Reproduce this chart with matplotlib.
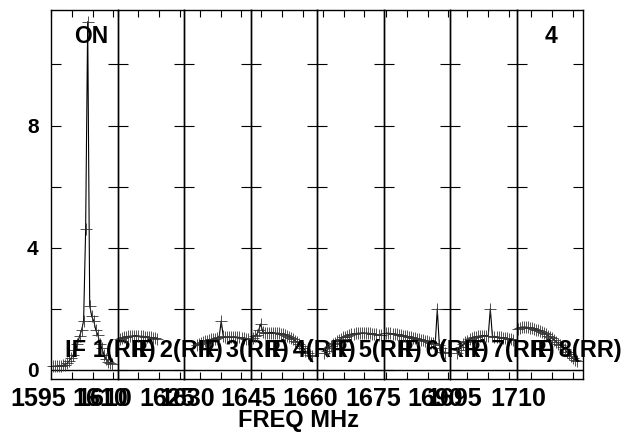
import numpy as np
import matplotlib.pyplot as plt
import matplotlib.transforms as mtransforms

plt.rcParams['font.family'] = ['Liberation Sans', 'DejaVu Sans']
plt.rcParams['font.weight'] = 'bold'

# frequency window of each IF panel (MHz)
if_lo = [1595.0, 1610.0, 1626.2, 1642.4, 1658.6, 1674.4, 1690.8, 1706.4]
if_bw = 16.0
# first / last channel frequency of each IF
chan_first = [1595.5, 1610.6, 1629.3, 1642.9, 1660.4, 1675.1, 1692.5, 1706.7]
chan_last = [1609.7, 1619.5, 1641.5, 1657.1, 1673.9, 1689.3, 1706.0, 1720.9]
if_names = ['IF 1(RR)', 'IF 2(RR)', 'IF 3(RR)', 'IF 4(RR)',
            'IF 5(RR)', 'IF 6(RR)', 'IF 7(RR)', 'IF 8(RR)']

# channel amplitudes
amp_if1 = [0.12, 0.12, 0.13, 0.12, 0.14, 0.15, 0.17, 0.22, 0.3, 0.4,
           0.5, 0.65, 0.85, 1.1, 1.3, 1.6, 4.6, 11.4, 2.1, 1.75,
           1.6, 1.3, 1.15, 0.85, 0.7, 0.5, 0.35, 0.27, 0.22, 0.2]
amp_if2 = [1.0, 1.03, 1.06, 1.08, 1.1, 1.1, 1.11, 1.12, 1.12, 1.11,
           1.1, 1.1, 1.09, 1.08, 1.07, 1.06, 1.05, 1.04, 1.02]
amp_if3 = [0.8, 0.84, 0.88, 0.91, 0.94, 0.96, 0.98, 1.0, 1.01, 1.02,
           1.04, 1.08, 1.6, 1.1, 1.06, 1.07, 1.08, 1.08, 1.08, 1.08,
           1.07, 1.06, 1.05, 1.04, 1.02, 1.0]
amp_if4 = [1.05, 1.1, 1.15, 1.3, 1.5, 1.25, 1.2, 1.2, 1.22, 1.22,
           1.22, 1.21, 1.2, 1.2, 1.18, 1.16, 1.14, 1.12, 1.08, 1.04,
           1.0, 0.95, 0.9, 0.84, 0.78, 0.7, 0.62, 0.55, 0.5, 0.45]
amp_if5 = [0.55, 0.62, 0.7, 0.77, 0.83, 0.89, 0.94, 0.98, 1.02, 1.06,
           1.09, 1.12, 1.14, 1.16, 1.18, 1.19, 1.2, 1.2, 1.21, 1.21,
           1.2, 1.2, 1.19, 1.18, 1.17, 1.16, 1.15, 1.14]
amp_if6 = [1.2, 1.2, 1.19, 1.18, 1.17, 1.16, 1.15, 1.14, 1.12, 1.11,
           1.1, 1.08, 1.07, 1.05, 1.04, 1.02, 1.0, 0.99, 0.97, 0.95,
           0.93, 0.91, 0.89, 0.87, 0.85, 2.0, 0.8, 0.7, 0.6, 0.55]
amp_if7 = [0.55, 0.65, 0.75, 0.83, 0.9, 0.95, 1.0, 1.03, 1.06, 1.08,
           1.1, 1.11, 1.12, 1.12, 1.12, 1.11, 2.0, 1.1, 1.09, 1.08,
           1.07, 1.06, 1.05, 1.04, 1.03, 1.02, 1.0, 0.98]
amp_if8 = [1.35, 1.38, 1.4, 1.4, 1.4, 1.39, 1.38, 1.36, 1.34, 1.32,
           1.3, 1.27, 1.24, 1.2, 1.16, 1.12, 1.08, 1.03, 0.98, 0.92,
           0.86, 0.8, 0.74, 0.68, 0.6, 0.53, 0.45, 0.38, 0.32, 0.28]
amps = [amp_if1, amp_if2, amp_if3, amp_if4, amp_if5, amp_if6, amp_if7, amp_if8]

fig, axes = plt.subplots(1, 8, figsize=(6.25, 4.32), dpi=100)
fig.subplots_adjust(left=0.0816, right=0.9328, bottom=0.1227, top=0.978, wspace=0)

# AIPS draws the freq labels shifted left of their ticks
lab_shift = mtransforms.ScaledTranslation(-13 / 100, 0, fig.dpi_scale_trans)

for i, ax in enumerate(axes):
    lo, hi = if_lo[i], if_lo[i] + if_bw
    freq = np.linspace(chan_first[i], chan_last[i], len(amps[i]))
    ax.patch.set_visible(False)
    ax.axhline(0, color='black', lw=1)
    ax.plot(freq, amps[i], color='black', lw=0.8, marker='+', ms=9,
            mew=0.6, mec='#333333', clip_on=False)
    ax.set_xlim(lo, hi)
    ax.set_ylim(-0.3, 11.8)

    ticks = np.arange(np.ceil(lo / 5) * 5, hi + 0.01, 5)
    ax.set_xticks(ticks)
    ax.set_xticklabels([f'{t:.0f}' if k % 3 == 0 else '' for k, t in enumerate(ticks)])
    ax.tick_params(axis='x', direction='in', length=5, width=0.8, top=True,
                   labelsize=18, pad=6)
    for lab in ax.get_xticklabels():
        lab.set_transform(lab.get_transform() + lab_shift)

    ax.set_yticks([0, 2, 4, 6, 8, 10])
    ax.set_yticklabels(['0', '', '4', '', '8', ''])
    ax.tick_params(axis='y', direction='in', length=7, width=0.8, left=True,
                   right=True, labelsize=15, pad=9, labelleft=(i == 0))
    for sp in ax.spines.values():
        sp.set_color('black')
        sp.set_linewidth(1)

    trans = mtransforms.blended_transform_factory(ax.transAxes, ax.transData)
    ax.text(0.215, 0.43, if_names[i], transform=trans, fontsize=17,
            ha='left', va='baseline', clip_on=False, zorder=10)

fig.text(91 / 625, 1 - 43 / 432, 'ON', fontsize=16.5, ha='center', va='baseline')
fig.text(551 / 625, 1 - 43 / 432, '4', fontsize=16.5, ha='center', va='baseline')
fig.text(298 / 625, 1 - 427 / 432, 'FREQ MHz', fontsize=17, ha='center', va='baseline')

fig.savefig('out.png', dpi=100)
